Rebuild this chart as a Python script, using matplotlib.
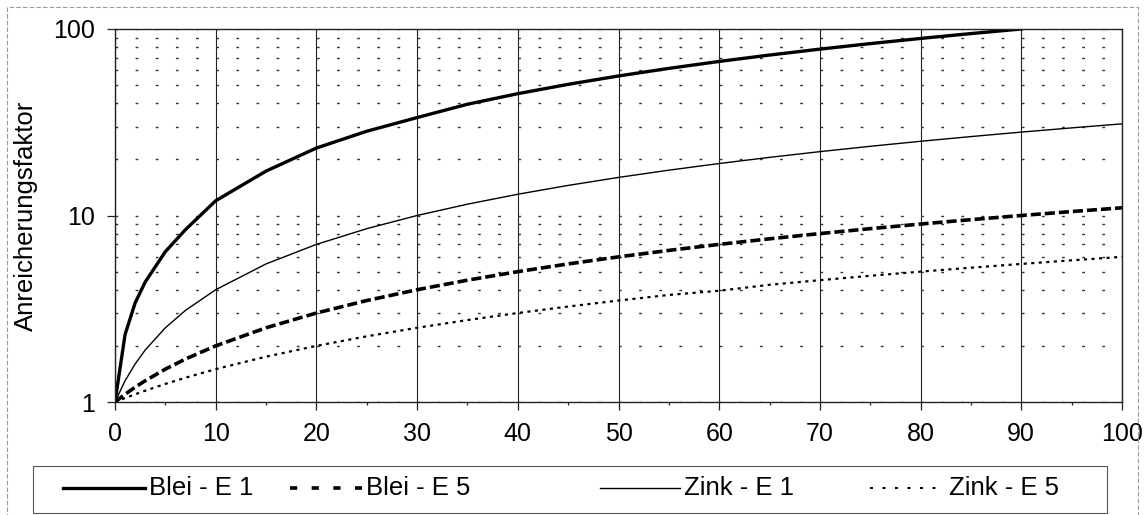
import numpy as np
import matplotlib.pyplot as plt
import matplotlib.ticker as ticker
from matplotlib.lines import Line2D
from matplotlib.patches import Rectangle

plt.rcParams['font.family'] = ['Liberation Sans', 'DejaVu Sans']

# values (x in %, Anreicherungsfaktor)
x = [0, 1, 2, 3, 5, 7, 10, 15, 20, 25, 30, 35, 40, 45, 50, 55, 60, 65, 70, 75, 80, 85, 90, 95, 100]
blei_e1 = [1.0, 2.3, 3.4, 4.4, 6.4, 8.4, 12.0, 17.3, 23.0, 28.3, 33.5, 39.5, 45.0, 50.5, 56.0, 61.5,
           67.0, 72.5, 78.0, 83.5, 89.0, 94.5, 100.0, np.nan, np.nan]
blei_e5 = [1.0, 1.1, 1.2, 1.3, 1.5, 1.7, 2.0, 2.5, 3.0, 3.5, 4.0, 4.5, 5.0, 5.5, 6.0, 6.5,
           7.0, 7.5, 8.0, 8.5, 9.0, 9.5, 10.0, 10.5, 11.0]
zink_e1 = [1.0, 1.3, 1.6, 1.9, 2.5, 3.1, 4.0, 5.5, 7.0, 8.5, 10.0, 11.5, 13.0, 14.5, 16.0, 17.5,
           19.0, 20.5, 22.0, 23.5, 25.0, 26.5, 28.0, 29.5, 31.0]
zink_e5 = [1.0, 1.05, 1.1, 1.15, 1.25, 1.35, 1.5, 1.75, 2.0, 2.25, 2.5, 2.75, 3.0, 3.25, 3.5, 3.75,
           3.95, 4.25, 4.5, 4.75, 5.0, 5.25, 5.5, 5.75, 6.0]

labels = ['Blei - E 1', 'Blei - E 5', 'Zink - E 1', 'Zink - E 5']
series = [blei_e1, blei_e5, zink_e1, zink_e5]

# line styles in the plot and in the legend sample
plot_styles = [dict(lw=2.4, ls='-'),
               dict(lw=2.6, ls=(0, (2.8, 1.1))),
               dict(lw=1.0, ls='-'),
               dict(lw=1.6, ls=(0, (1.4, 2.0)))]
leg_styles = [dict(lw=2.4, ls='-'),
              dict(lw=2.6, ls=(0, (2, 4))),
              dict(lw=1.0, ls='-'),
              dict(lw=1.5, ls=(0, (1.4, 4.6)))]

W, H = 1145, 515
fig = plt.figure(figsize=(W / 100, H / 100), dpi=100)
ax = fig.add_axes([115 / W, 1 - 402 / H, (1122 - 115) / W, (402 - 29) / H])

for y, st in zip(series, plot_styles):
    ax.plot(x, y, color='black', **st)

ax.set_yscale('log')
ax.set_xlim(0, 100)
ax.set_ylim(1, 100)

ax.xaxis.set_major_locator(ticker.MultipleLocator(10))
ax.xaxis.set_minor_locator(ticker.FixedLocator([5, 15, 25, 35, 45, 55, 65, 75, 85, 95]))
ax.set_yticks([1, 10, 100], labels=['1', '10', '100'])
ax.yaxis.set_minor_locator(ticker.LogLocator(base=10, subs=np.arange(2, 10)))
ax.yaxis.set_minor_formatter(ticker.NullFormatter())

ax.tick_params(axis='both', which='major', labelsize=18, direction='out', length=5.5, width=0.9, color='#222')
ax.tick_params(axis='x', which='major', pad=9)
ax.tick_params(axis='y', which='major', pad=9)
ax.tick_params(axis='x', which='minor', direction='out', length=2.5, width=0.9, color='#222')
ax.tick_params(axis='y', which='minor', length=0)

ax.xaxis.grid(True, which='major', color='#222', lw=0.8, ls='-')
ax.yaxis.grid(True, which='both', color='#333', lw=1.0, ls=(0, (2, 12.5)))
ax.set_axisbelow(True)

for sp in ax.spines.values():
    sp.set_color('#222')
    sp.set_linewidth(1.0)

ax.set_ylabel('Anreicherungsfaktor', fontsize=18.5)
ax.yaxis.set_label_coords(-0.077, 0.5)

# legend drawn by hand to match the spacing of the original
fig.add_artist(Rectangle((33 / W, 2 / H), (1107 - 33) / W, (513 - 466) / H,
                         transform=fig.transFigure, fill=False, ec='#555', lw=0.8))
h_start = [63, 290, 600, 870]
h_end = [145, 362, 680, 945]
ly = 1 - 488 / H
for lab, st, x0, x1 in zip(labels, leg_styles, h_start, h_end):
    fig.add_artist(Line2D([x0 / W, x1 / W], [ly, ly], transform=fig.transFigure, color='black', **st))
    fig.text((x1 + 4) / W, ly, lab, fontsize=18.5, ha='left', va='center')

# chart area border
fig.add_artist(Rectangle((7 / W, -0.02), (1138 - 7) / W, 1 - 7 / H + 0.02,
                         transform=fig.transFigure, fill=False, ec='#999', lw=0.8, ls=(0, (4, 2))))

fig.savefig('out.png', dpi=100)
